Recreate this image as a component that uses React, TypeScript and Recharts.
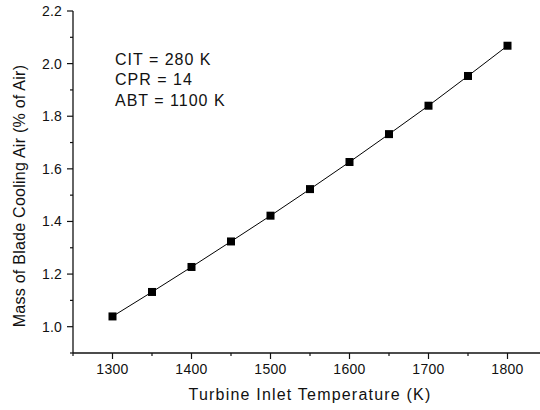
import React from "react";
import { LineChart, Line, XAxis, YAxis, Label } from "recharts";

const temperatures = [1300, 1350, 1400, 1450, 1500, 1550, 1600, 1650, 1700, 1750, 1800];
const coolingAir = [1.039, 1.132, 1.227, 1.324, 1.422, 1.523, 1.626, 1.732, 1.84, 1.953, 2.068];
const xTicks = [1250, 1300, 1350, 1400, 1450, 1500, 1550, 1600, 1650, 1700, 1750, 1800, 1850];
const yTicks = [0.9, 1.0, 1.1, 1.2, 1.3, 1.4, 1.5, 1.6, 1.7, 1.8, 1.9, 2.0, 2.1, 2.2];
const notes = ["CIT = 280 K", "CPR = 14", "ABT = 1100 K"];

const data = temperatures.map((t, i) => ({ t, v: coolingAir[i] }));

const FONT = "'Liberation Sans', Arial, sans-serif";
const INK = "#111";

const XTick = (props: any) => {
  const { x, y, payload } = props;
  const v = payload.value as number;
  const major = v % 100 === 0;
  return (
    <g>
      <line x1={x} x2={x} y1={y} y2={y + (major ? 6 : 3)} stroke={INK} strokeWidth={1.2} />
      {major && (
        <text x={x} y={y + 21} textAnchor="middle" fontSize={14} letterSpacing={0.3} fontFamily={FONT} fill={INK}>
          {v}
        </text>
      )}
    </g>
  );
};

const YTick = (props: any) => {
  const { x, y, payload } = props;
  const v = payload.value as number;
  const major = Math.round(v * 10) % 2 === 0;
  return (
    <g>
      <line x1={x} x2={x - (major ? 6 : 3)} y1={y} y2={y} stroke={INK} strokeWidth={1.2} />
      {major && (
        <text x={x - 11} y={y + 5} textAnchor="end" fontSize={14} letterSpacing={0.2} fontFamily={FONT} fill={INK}>
          {v.toFixed(1)}
        </text>
      )}
    </g>
  );
};

const SquareDot = (props: any) => {
  const { cx, cy, index } = props;
  return <rect key={index} x={cx - 4} y={cy - 4} width={8} height={8} fill="#000" />;
};

export default function App() {
  return (
    <div style={{ position: "relative", width: 540, height: 410, overflow: "hidden", background: "#fff" }}>
      <style>{`body{margin:0}`}</style>
      <LineChart width={548} height={410} data={data} margin={{ top: 11, right: 1, left: 0, bottom: 0 }}>
        <XAxis
          dataKey="t"
          type="number"
          domain={[1250, 1850]}
          ticks={xTicks}
          interval={0}
          tickSize={0}
          tickMargin={0}
          tickLine={false}
          tick={<XTick />}
          height={57}
          stroke={INK}
          axisLine={{ stroke: INK, strokeWidth: 1.3 }}
        >
          <Label
            content={(p: any) => {
              const vb = p.viewBox;
              return (
                <text
                  x={vb.x + vb.width / 2}
                  y={vb.y + 47}
                  textAnchor="middle"
                  fontSize={16}
                  letterSpacing={1.2}
                  fontFamily={FONT}
                  fill={INK}
                >
                  Turbine Inlet Temperature (K)
                </text>
              );
            }}
          />
        </XAxis>
        <YAxis
          type="number"
          domain={[0.9, 2.2]}
          ticks={yTicks}
          interval={0}
          tickSize={0}
          tickMargin={0}
          tickLine={false}
          tick={<YTick />}
          width={73}
          axisLine={{ stroke: INK, strokeWidth: 1.3 }}
        >
          <Label
            content={() => (
              <text
                transform="translate(25, 196) rotate(-90)"
                textAnchor="middle"
                fontSize={16}
                letterSpacing={0.25}
                fontFamily={FONT}
                fill={INK}
              >
                Mass of Blade Cooling Air (% of Air)
              </text>
            )}
          />
        </YAxis>
        <Line
          type="linear"
          dataKey="v"
          stroke="#000"
          strokeWidth={1}
          dot={<SquareDot />}
          activeDot={false}
          isAnimationActive={false}
        />
      </LineChart>
      {notes.map((n, i) => (
        <div
          key={n}
          style={{
            position: "absolute",
            left: 115,
            top: 66 + i * 20.4 - 15,
            fontFamily: FONT,
            fontSize: 16,
            letterSpacing: 1.0,
            color: INK,
            lineHeight: "18px",
            whiteSpace: "nowrap",
          }}
        >
          {n}
        </div>
      ))}
    </div>
  );
}
